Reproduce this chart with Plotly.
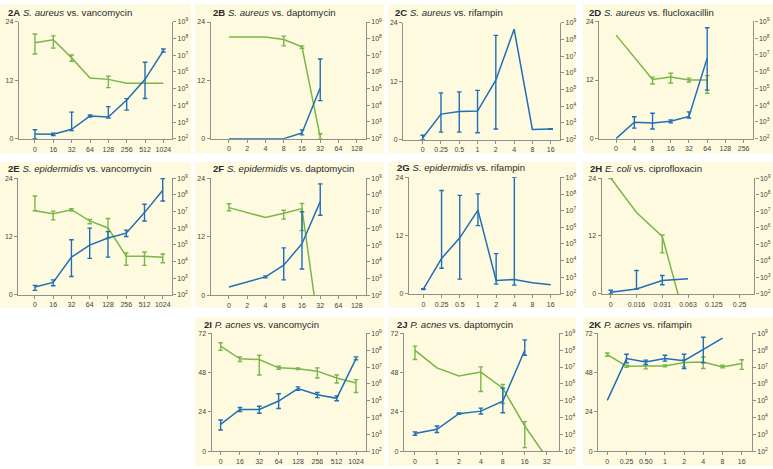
import plotly.graph_objects as go

W, H = 773, 469

# ---------------- data (green: left linear axis, blue: right log10 axis) ----------------
A_cats = ["0", "16", "32", "64", "128", "256", "512", "1024"]
A_green = [19.7, 20.3, 16.6, 12.5, 12.2, 11.4, 11.4, 11.4]
A_gup = [1.8, 0.8, 0.6, None, 0.65, None, None, None]
A_gdn = [2.3, 1.7, 0.7, None, 1.7, None, None, None]
A_blue = [2.29, 2.28, 2.58, 3.37, 3.31, 4.33, 5.56, 7.28]
A_bup = [0.26, 0.06, 1.02, 0.06, 0.62, 0.08, 1.02, 0.09]
A_bdn = [0.29, 0.08, 0.08, 0.06, 0.06, 0.61, 1.14, 0.09]

B_cats = ["0", "2", "4", "8", "16", "32", "64", "128"]
B_green = [20.9, 20.9, 20.9, 20.4, 18.9, 0.3, None, None]
B_gup = [None, None, None, 0.7, 0.2, 0.7, None, None]
B_gdn = [None, None, None, 1.3, 0.3, 0.3, None, None]
B_blue = [2.0, 2.0, 2.0, 2.0, 2.34, 5.06, None, None]
B_bup = [None, None, None, None, 0.19, 1.72, None, None]
B_bdn = [None, None, None, None, 0.11, 0.78, None, None]

C_cats = ["0", "0.25", "0.5", "1", "2", "4", "8", "16"]
C_blue = [2.10, 3.53, 3.69, 3.71, 5.56, 8.61, 2.61, 2.64]
C_bup = [0.16, 1.27, 1.17, 1.24, 2.68, None, None, 0.02]
C_bdn = [0.10, 1.08, 1.24, 1.30, 2.92, None, None, 0.02]

D_cats = ["0", "4", "8", "16", "32", "64", "128", "256"]
D_green = [21.2, None, 12.1, 12.6, 12.0, 12.0, None, None]
D_gup = [None, None, 0.5, 0.8, 0.4, 0.9, None, None]
D_gdn = [None, None, 0.9, 1.2, 0.4, 2.7, None, None]
D_blue = [2.0, 2.98, 2.94, 3.04, 3.33, 6.81, None, None]
D_bup = [None, 0.33, 0.58, 0.08, 0.27, 1.81, None, None]
D_bdn = [None, 0.35, 0.36, 0.10, 0.10, 1.91, None, None]

E_cats = ["0", "16", "32", "64", "128", "256", "512", "1024"]
E_green = [17.3, 16.65, 17.5, 15.2, 13.75, 7.96, 7.96, 7.75]
E_gup = [3.0, 0.55, 0.2, 0.3, 1.95, 0.64, 0.84, 0.65]
E_gdn = [0.0, 1.25, 0.3, 0.6, 2.05, 1.86, 1.89, 1.15]
E_blue = [2.47, 2.75, 4.26, 4.98, 5.41, 5.70, 6.93, 8.27]
E_bup = [0.10, 0.15, 1.04, 1.02, 0.38, 0.18, 0.50, 0.70]
E_bdn = [0.20, 0.20, 1.16, 0.79, 1.15, 0.20, 0.50, 0.64]

F_cats = ["0", "2", "4", "8", "16", "32", "64", "128"]
F_green = [17.95, None, 15.93, 16.8, 17.75, -8.9, None, None]
F_gup = [0.8, None, None, 0.6, 1.05, None, None, None]
F_gdn = [0.65, None, None, 1.2, 4.5, None, None, None]
F_blue = [2.49, None, 3.10, 3.80, 5.08, 7.59, None, None]
F_bup = [None, None, 0.06, 1.03, 1.91, 1.06, None, None]
F_bdn = [None, None, 0.06, 0.88, 1.51, 0.81, None, None]

G_cats = ["0", "0.25", "0.5", "1", "2", "4", "8", "16"]
G_blue = [2.29, 4.13, 5.37, 7.03, 2.81, 2.87, 2.67, 2.55]
G_bup = [0.03, 4.08, 2.55, 0.98, 1.61, 6.13, None, None]
G_bdn = [0.03, 0.59, 2.48, 0.93, 0.22, 0.34, None, None]

H_cats = ["0", "0.016", "0.031", "0.063", "0.125", "0.25"]
H_green = [24.0, 16.86, 11.9, -7.6, None, None]
H_gup = [0.0, None, 0.3, None, None, None]
H_gdn = [0.1, None, 3.4, None, None, None]
H_blue = [2.10, 2.30, 2.81, 2.91, None, None]
H_bup = [0.12, 1.11, 0.30, None, None, None]
H_bdn = [0.10, 0.0, 0.26, None, None, None]

I_cats = ["0", "16", "32", "64", "128", "256", "512", "1024"]
I_green = [64.2, 56.4, 56.0, 50.9, 50.3, 48.9, 44.7, 41.7]
I_gup = [2.0, 1.2, 2.6, 1.0, 0.5, 2.0, 1.8, 2.0]
I_gdn = [2.6, 1.6, 9.5, 0.8, 0.5, 4.2, 3.0, 5.8]
I_blue = [3.59, 4.48, 4.48, 4.98, 5.72, 5.35, 5.14, 7.50]
I_bup = [0.26, 0.12, 0.19, 0.43, 0.10, 0.14, 0.14, 0.10]
I_bdn = [0.33, 0.12, 0.23, 0.44, 0.11, 0.17, 0.14, 0.08]

J_cats = ["0", "1", "2", "4", "8", "16", "32"]
J_green = [61.6, 50.9, 45.9, 48.3, 38.5, 15.4, -3.9]
J_gup = [2.6, None, None, 3.2, 2.2, 2.65, None]
J_gdn = [5.6, None, None, 11.8, 9.4, 13.2, None]
J_blue = [3.05, 3.30, 4.23, 4.38, 4.97, 7.99, None]
J_bup = [0.10, 0.20, 0.04, 0.18, 0.77, 0.62, None]
J_bdn = [0.10, 0.19, 0.04, 0.17, 0.69, 0.29, None]

K_cats = ["0", "0.25", "0.50", "1", "2", "4", "8", "16"]
K_green = [59.0, 51.9, 52.1, 52.1, 54.1, 54.5, 51.5, 53.5]
K_gup = [1.0, 0.6, 0.8, 0.6, 2.0, 3.0, 1.0, 2.4]
K_gdn = [1.0, 0.6, 1.8, 0.6, 2.6, 4.0, 0.6, 3.5]
K_blue = [5.02, 7.50, 7.29, 7.50, 7.37, 8.05, 8.71, None]
K_bup = [None, 0.26, 0.12, 0.20, 0.39, 0.72, None, None]
K_bdn = [None, 0.25, 0.14, 0.15, 0.46, 0.80, None, None]

titles = [
    "<b>2A</b> <i>S. aureus</i> vs. vancomycin",
    "<b>2B</b> <i>S. aureus</i> vs. daptomycin",
    "<b>2C</b> <i>S. aureus</i> vs. rifampin",
    "<b>2D</b> <i>S. aureus</i> vs. flucloxacillin",
    "<b>2E</b> <i>S. epidermidis</i> vs. vancomycin",
    "<b>2F</b> <i>S. epidermidis</i> vs. daptomycin",
    "<b>2G</b> <i>S. epidermidis</i> vs. rifampin",
    "<b>2H</b> <i>E. coli</i> vs. ciprofloxacin",
    "<b>2I</b> <i>P. acnes</i> vs. vancomycin",
    "<b>2J</b> <i>P. acnes</i> vs. daptomycin",
    "<b>2K</b> <i>P. acnes</i> vs. rifampin",
]

left_ticks_short = [0, 12, 24]
left_ticks_long = [0, 24, 48, 72]
right_ticks = [2, 3, 4, 5, 6, 7, 8, 9]
right_labels = ["10<sup>%d</sup>" % v for v in right_ticks]

panels = [
    (A_cats, A_green, A_gup, A_gdn, A_blue, A_bup, A_bdn, left_ticks_short),
    (B_cats, B_green, B_gup, B_gdn, B_blue, B_bup, B_bdn, left_ticks_short),
    (C_cats, None, None, None, C_blue, C_bup, C_bdn, left_ticks_short),
    (D_cats, D_green, D_gup, D_gdn, D_blue, D_bup, D_bdn, left_ticks_short),
    (E_cats, E_green, E_gup, E_gdn, E_blue, E_bup, E_bdn, left_ticks_short),
    (F_cats, F_green, F_gup, F_gdn, F_blue, F_bup, F_bdn, left_ticks_short),
    (G_cats, None, None, None, G_blue, G_bup, G_bdn, left_ticks_short),
    (H_cats, H_green, H_gup, H_gdn, H_blue, H_bup, H_bdn, left_ticks_short),
    (I_cats, I_green, I_gup, I_gdn, I_blue, I_bup, I_bdn, left_ticks_long),
    (J_cats, J_green, J_gup, J_gdn, J_blue, J_bup, J_bdn, left_ticks_long),
    (K_cats, K_green, K_gup, K_gdn, K_blue, K_bup, K_bdn, left_ticks_long),
]

# ---------------- geometry (pixels) ----------------
# plot area: left, right, top, bottom ; x range in category units
geom = [
    (19, 172, 18, 137, -0.87, 7.47),
    (210.7, 365.7, 18.3, 136.7, -1.0, 7.49),
    (403.3, 560, 19, 137.7, -1.06, 7.51),
    (599.3, 753.3, 17.7, 136.7, -0.92, 7.53),
    (18.3, 171.7, 176.7, 295.3, -0.91, 7.49),
    (210.7, 365.7, 176.7, 295.7, -1.0, 7.49),
    (409, 560, 176, 294.3, -0.79, 7.51),
    (601.7, 754.3, 176.7, 294.3, -0.35, 5.57),
    (211.7, 365.7, 334.3, 454, -0.46, 7.5),
    (404, 559, 334.3, 454, -0.5, 6.56),
    (598.3, 751.7, 334.3, 454, -0.47, 7.52),
]
title_pos = [(6, 8.5), (210.7, 8.3), (393.3, 9), (587.3, 8.3),
             (6, 166.7), (210.7, 166.7), (395, 165.7), (588.3, 166.7),
             (201.7, 325), (395, 325), (586.7, 325)]
bg_rects = [(0, 191, 0, 151.5), (195, 384, 0, 151.5), (388, 576, 0, 151.5), (583, 773, 0, 151.5),
            (0, 191, 160.5, 308), (195, 384, 160.5, 308), (388, 576, 160.5, 308), (583, 773, 160.5, 308),
            (195, 384, 318, 469), (388, 576, 318, 469), (583, 773, 318, 469)]

GREEN = "#7AB648"
BLUE = "#1F6EB7"
BG = "#FEFADF"
AXC = "#8f8f8f"
TXT = "#444444"
FONT = "Liberation Sans, Arial, sans-serif"

fig = go.Figure()
layout = {}


def err_trace(cats, vals, up, dn, xa, ya, color):
    idx = [i for i in range(len(cats)) if up[i] is not None and vals[i] is not None]
    return go.Scatter(
        x=[cats[i] for i in idx], y=[vals[i] for i in idx],
        xaxis=xa, yaxis=ya, mode="markers",
        marker=dict(size=2, opacity=0), hoverinfo="skip", showlegend=False,
        error_y=dict(type="data", symmetric=False,
                     array=[up[i] for i in idx], arrayminus=[dn[i] for i in idx],
                     color=color, thickness=1.4, width=2.3),
    )


for k, (p, g) in enumerate(zip(panels, geom), start=1):
    cats, green, gup, gdn, blue, bup, bdn, lticks = p
    L, R, T, B, x0, x1 = g
    xa = "x" if k == 1 else "x%d" % k
    yl = 2 * k - 1
    yr = 2 * k
    yla = "y" if yl == 1 else "y%d" % yl
    yra = "y%d" % yr
    xkey = "xaxis" if k == 1 else "xaxis%d" % k
    ylkey = "yaxis" if yl == 1 else "yaxis%d" % yl
    yrkey = "yaxis%d" % yr

    common = dict(showline=True, linecolor=AXC, linewidth=1.4, ticks="outside",
                  ticklen=3, tickcolor=AXC, tickwidth=1, showgrid=False, zeroline=False,
                  tickfont=dict(size=7, color=TXT, family=FONT), fixedrange=True)
    layout[xkey] = dict(domain=[L / W, R / W], anchor=yla, type="category",
                        categoryorder="array", categoryarray=cats, range=[x0, x1], **common)
    layout[ylkey] = dict(domain=[1 - B / H, 1 - T / H], anchor=xa, range=[0, lticks[-1]],
                         tickvals=lticks, ticktext=[str(v) for v in lticks], **common)
    layout[yrkey] = dict(overlaying=yla, side="right", anchor=xa, range=[2, 9],
                         tickvals=right_ticks, ticktext=right_labels, **common)

    if green is not None:
        fig.add_trace(go.Scatter(x=cats, y=green, xaxis=xa, yaxis=yla, mode="lines",
                                 line=dict(color=GREEN, width=1.5), connectgaps=True,
                                 hoverinfo="skip", showlegend=False))
        fig.add_trace(err_trace(cats, green, gup, gdn, xa, yla, GREEN))
    else:
        # empty placeholder so the left axis / subplot exists
        fig.add_trace(go.Scatter(x=cats, y=[None] * len(cats), xaxis=xa, yaxis=yla,
                                 mode="lines", hoverinfo="skip", showlegend=False))
    fig.add_trace(go.Scatter(x=cats, y=blue, xaxis=xa, yaxis=yra, mode="lines",
                             line=dict(color=BLUE, width=1.5), connectgaps=True,
                             hoverinfo="skip", showlegend=False))
    fig.add_trace(err_trace(cats, blue, bup, bdn, xa, yra, BLUE))

shapes = [dict(type="rect", xref="paper", yref="paper",
               x0=a / W, x1=b / W, y0=1 - d / H, y1=1 - c / H,
               fillcolor=BG, line=dict(width=0), layer="below")
          for (a, b, c, d) in bg_rects]

annotations = [dict(text=t, xref="paper", yref="paper", x=px / W, y=1 - py / H,
                    xanchor="left", yanchor="middle", showarrow=False,
                    font=dict(size=9.6, color="#2a2a2a", family=FONT))
               for t, (px, py) in zip(titles, title_pos)]

fig.update_layout(
    width=W, height=H, margin=dict(l=0, r=0, t=0, b=0),
    paper_bgcolor="white", plot_bgcolor="rgba(0,0,0,0)",
    shapes=shapes, annotations=annotations, showlegend=False,
    **layout,
)

fig.write_html("out.html", config={"displayModeBar": False},
               post_script="document.body.style.margin='0px';")
